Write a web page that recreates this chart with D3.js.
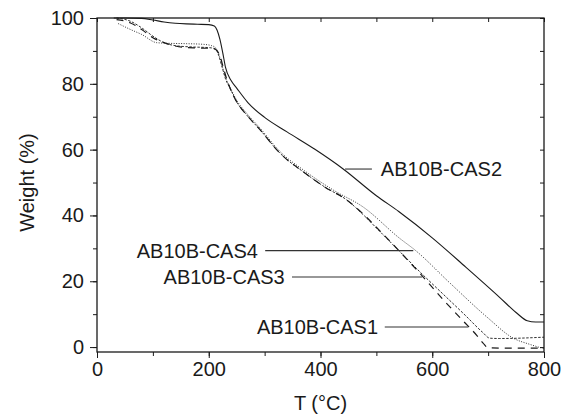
<!DOCTYPE html>
<html>
<head>
<meta charset="utf-8">
<script src="https://cdn.jsdelivr.net/npm/d3@7"></script>
<style>
  html, body { margin: 0; padding: 0; background: #fff; }
  svg { display: block; font-family: 'Liberation Sans', Arial, sans-serif; }
</style>
</head>
<body>
<div id="chart"></div>
<script>
// TGA curves, weight (%) vs temperature for four AB10B-CAS samples.

const xTicks = [0, 200, 400, 600, 800];
const yTicks = [0, 20, 40, 60, 80, 100];

// AB10B-CAS2 (solid)
const tCAS2 = [30, 50, 80, 100, 120, 140, 160, 180, 200, 210, 215, 220, 225, 230, 240, 250, 270, 300, 340, 390, 440, 500, 540, 600, 660, 720, 750, 770, 785, 800];
const wCAS2 = [100, 100, 99.9, 99.4, 98.8, 98.4, 98.2, 98.1, 98.0, 97.6, 96.3, 93.5, 89.5, 85, 81, 78.7, 74.3, 69.8, 65.4, 60.1, 54.2, 46, 41.2, 33.2, 24.3, 15.2, 10.5, 8, 7.6, 7.6];

// AB10B-CAS1 (long dash)
const tCAS1 = [35, 60, 80, 100, 120, 140, 160, 180, 200, 210, 215, 220, 226, 232, 238, 250, 268, 292, 327, 372, 408, 447, 476, 500, 542, 580, 619, 655, 680, 691, 700, 720, 800];
const wCAS1 = [99.5, 98.5, 96.5, 94, 92.5, 91.5, 91, 90.9, 90.8, 90.6, 90, 88.5, 85, 81.5, 78.7, 74.5, 70.5, 66, 59, 52.9, 48.6, 44.7, 40.5, 36.4, 29, 22, 14.5, 8, 3.5, 1.2, -0.2, -0.3, -0.3];

// AB10B-CAS3 (short dash)
const tCAS3 = [35, 60, 80, 100, 120, 140, 170, 200, 212, 218, 224, 230, 238, 250, 268, 292, 327, 372, 408, 447, 476, 500, 542, 580, 620, 660, 690, 703, 720, 800];
const wCAS3 = [100, 99, 97, 94.5, 92.5, 91.6, 91.2, 91, 90.6, 88.5, 85, 81.5, 78.7, 74.5, 70.5, 66, 59, 52.9, 48.6, 44.7, 40.3, 36.2, 29, 22.5, 16, 9.5, 4.5, 2.7, 2.6, 3.0];

// AB10B-CAS4 (dotted)
const tCAS4 = [38, 60, 80, 107, 130, 160, 190, 205, 212, 218, 224, 230, 238, 250, 268, 292, 327, 372, 423, 476, 542, 569, 632, 698, 745, 775, 800];
const wCAS4 = [98.3, 96.5, 95, 92.5, 92.3, 92.2, 92, 91.6, 91, 89, 85.5, 82, 79, 75, 71, 66.5, 59.5, 53.5, 47.7, 42.6, 33, 29.5, 19.4, 9.1, 2.7, 0.8, -0.5];

const seriesNames = ['AB10B-CAS1', 'AB10B-CAS2', 'AB10B-CAS3', 'AB10B-CAS4'];
const seriesT = [tCAS1, tCAS2, tCAS3, tCAS4];
const seriesW = [wCAS1, wCAS2, wCAS3, wCAS4];

// Label leader lines, in data units: [text anchor T, line start T, line end T, W]
const labelCAS2 = [508, 444, 492, 54.1];
const labelCAS4 = [288, 301, 566, 29.3];
const labelCAS3 = [336, 349, 582, 21.3];
const labelCAS1 = [503, 515, 664, 6.1];

const W = 573, H = 418;
const M = { left: 97, right: 29, top: 18, bottom: 66 };

const x = d3.scaleLinear().domain([0, 800]).range([M.left, W - M.right]);
const y = d3.scaleLinear().domain([-1.5, 100]).range([H - M.bottom, M.top]);

const svg = d3.select('#chart').append('svg')
  .attr('width', W).attr('height', H);

const INK = '#1a1a1a';
const FONT = 20;

// --- axes ---
const minorX = d3.range(0, 801, 100);
const minorY = d3.range(0, 101, 10);

const styleAxis = ax => {
  ax.select('.domain').remove();
  ax.selectAll('.tick line').attr('stroke', INK).attr('stroke-width', 1);
  ax.selectAll('.tick text').attr('fill', INK).attr('font-size', FONT)
    .attr('font-family', "'Liberation Sans', Arial, sans-serif");
};

// bottom: minor then major ticks (outward)
svg.append('g').attr('transform', `translate(0,${y(-1.5)})`)
  .call(d3.axisBottom(x).tickValues(minorX).tickSize(4).tickFormat(''))
  .call(styleAxis);
svg.append('g').attr('transform', `translate(0,${y(-1.5)})`)
  .call(d3.axisBottom(x).tickValues(xTicks).tickSize(6).tickPadding(4).tickFormat(d3.format('d')))
  .call(styleAxis);

// left
svg.append('g').attr('transform', `translate(${x(0)},0)`)
  .call(d3.axisLeft(y).tickValues(minorY).tickSize(4).tickFormat(''))
  .call(styleAxis);
svg.append('g').attr('transform', `translate(${x(0)},0)`)
  .call(d3.axisLeft(y).tickValues(yTicks).tickSize(7).tickPadding(6).tickFormat(d3.format('d')))
  .call(styleAxis);

// top and right: inward ticks
svg.append('g').attr('transform', `translate(0,${y(100)})`)
  .call(d3.axisTop(x).tickValues(minorX).tickSize(-4).tickFormat(''))
  .call(styleAxis);
svg.append('g').attr('transform', `translate(${x(800)},0)`)
  .call(d3.axisRight(y).tickValues(minorY).tickSize(-4).tickFormat(''))
  .call(styleAxis);

// frame
svg.append('rect')
  .attr('x', x(0)).attr('y', y(100))
  .attr('width', x(800) - x(0)).attr('height', y(-1.5) - y(100))
  .attr('fill', 'none').attr('stroke', INK).attr('stroke-width', 1.3);

// axis titles
svg.append('text')
  .attr('x', (x(0) + x(800)) / 2).attr('y', 410)
  .attr('text-anchor', 'middle').attr('font-size', FONT).attr('fill', INK)
  .text('T (°C)');

svg.append('text')
  .attr('transform', `translate(34,${(y(0) + y(100)) / 2}) rotate(-90)`)
  .attr('text-anchor', 'middle').attr('font-size', FONT).attr('fill', INK)
  .text('Weight (%)');

// --- curves ---
const styles = {
  'AB10B-CAS1': { dash: '7,6', width: 1.2 },
  'AB10B-CAS2': { dash: null, width: 1.1 },
  'AB10B-CAS3': { dash: '2.5,1.5', width: 0.9 },
  'AB10B-CAS4': { dash: '1,1.5', width: 0.9 },
};

const line = d3.line()
  .x(d => x(d[0]))
  .y(d => y(d[1]))
  .curve(d3.curveMonotoneX);

const plot = svg.append('g');
seriesNames.forEach((name, i) => {
  const pts = seriesT[i].map((t, j) => [t, seriesW[i][j]]);
  plot.append('path')
    .datum(pts)
    .attr('d', line)
    .attr('fill', 'none')
    .attr('stroke', INK)
    .attr('stroke-width', styles[name].width)
    .attr('stroke-dasharray', styles[name].dash);
});

// --- labels with leader lines ---
function label(name, spec, side) {
  const [tText, t0, t1, w] = spec;
  svg.append('line')
    .attr('x1', x(t0)).attr('x2', x(t1))
    .attr('y1', y(w)).attr('y2', y(w))
    .attr('stroke', '#333').attr('stroke-width', 1.1);
  svg.append('text')
    .attr('x', x(tText)).attr('y', y(w))
    .attr('dy', '0.36em')
    .attr('text-anchor', side === 'left' ? 'end' : 'start')
    .attr('font-size', FONT).attr('fill', INK)
    .text(name);
}

label('AB10B-CAS2', labelCAS2, 'right');
label('AB10B-CAS4', labelCAS4, 'left');
label('AB10B-CAS3', labelCAS3, 'left');
label('AB10B-CAS1', labelCAS1, 'left');
</script>
</body>
</html>
